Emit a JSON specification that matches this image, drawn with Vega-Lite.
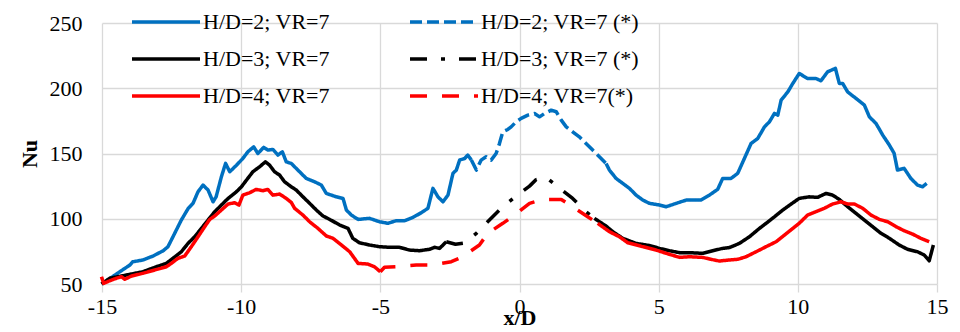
{
  "$schema": "https://vega.github.io/schema/vega-lite/v6.json",
  "width": 835,
  "height": 261,
  "autosize": {"type": "none"},
  "padding": {"left": 102, "top": 23, "right": 23, "bottom": 48},
  "background": "white",
  "config": {
    "font": "Liberation Serif, Times New Roman, serif",
    "view": {"stroke": null},
    "axis": {"labelFont": "Liberation Serif, Times New Roman, serif", "titleFont": "Liberation Serif, Times New Roman, serif", "labelFontSize": 22, "titleFontSize": 22, "labelColor": "#000000", "titleColor": "#000000", "titleFontWeight": "bold", "gridColor": "#d9d9d9", "gridWidth": 1.3, "domain": false},
    "legend": {"labelFont": "Liberation Serif, Times New Roman, serif", "labelFontSize": 22, "labelColor": "#000000", "padding": 0}
  },
  "data": {"values": [
    {"s":"H/D=2; VR=7","g":1,"x":-15.0,"y":50},{"s":"H/D=2; VR=7","g":1,"x":-14.7,"y":54.4},{"s":"H/D=2; VR=7","g":1,"x":-14.36,"y":59.4},{"s":"H/D=2; VR=7","g":1,"x":-14.0,"y":64.5},{"s":"H/D=2; VR=7","g":1,"x":-13.9,"y":67},{"s":"H/D=2; VR=7","g":1,"x":-13.53,"y":68.4},{"s":"H/D=2; VR=7","g":1,"x":-13.17,"y":71.4},{"s":"H/D=2; VR=7","g":1,"x":-12.8,"y":75.5},{"s":"H/D=2; VR=7","g":1,"x":-12.63,"y":78.6},{"s":"H/D=2; VR=7","g":1,"x":-12.45,"y":86.2},{"s":"H/D=2; VR=7","g":1,"x":-12.15,"y":99},{"s":"H/D=2; VR=7","g":1,"x":-11.9,"y":108},{"s":"H/D=2; VR=7","g":1,"x":-11.73,"y":111.8},{"s":"H/D=2; VR=7","g":1,"x":-11.55,"y":120.7},{"s":"H/D=2; VR=7","g":1,"x":-11.37,"y":125.8},{"s":"H/D=2; VR=7","g":1,"x":-11.19,"y":122},{"s":"H/D=2; VR=7","g":1,"x":-11.01,"y":113},{"s":"H/D=2; VR=7","g":1,"x":-10.9,"y":116.8},{"s":"H/D=2; VR=7","g":1,"x":-10.71,"y":132.2},{"s":"H/D=2; VR=7","g":1,"x":-10.56,"y":142.4},{"s":"H/D=2; VR=7","g":1,"x":-10.41,"y":136},{"s":"H/D=2; VR=7","g":1,"x":-10.17,"y":141},{"s":"H/D=2; VR=7","g":1,"x":-9.94,"y":146.2},{"s":"H/D=2; VR=7","g":1,"x":-9.76,"y":151.3},{"s":"H/D=2; VR=7","g":1,"x":-9.55,"y":155.1},{"s":"H/D=2; VR=7","g":1,"x":-9.4,"y":150},{"s":"H/D=2; VR=7","g":1,"x":-9.19,"y":154.7},{"s":"H/D=2; VR=7","g":1,"x":-9.04,"y":152.6},{"s":"H/D=2; VR=7","g":1,"x":-8.86,"y":153.1},{"s":"H/D=2; VR=7","g":1,"x":-8.68,"y":148.8},{"s":"H/D=2; VR=7","g":1,"x":-8.52,"y":151.3},{"s":"H/D=2; VR=7","g":1,"x":-8.38,"y":143.6},{"s":"H/D=2; VR=7","g":1,"x":-8.2,"y":142.4},{"s":"H/D=2; VR=7","g":1,"x":-7.93,"y":136.6},{"s":"H/D=2; VR=7","g":1,"x":-7.66,"y":130.9},{"s":"H/D=2; VR=7","g":1,"x":-7.36,"y":128.3},{"s":"H/D=2; VR=7","g":1,"x":-7.12,"y":125.8},{"s":"H/D=2; VR=7","g":1,"x":-6.94,"y":119.4},{"s":"H/D=2; VR=7","g":1,"x":-6.58,"y":116.8},{"s":"H/D=2; VR=7","g":1,"x":-6.34,"y":115.6},{"s":"H/D=2; VR=7","g":1,"x":-6.22,"y":106.7},{"s":"H/D=2; VR=7","g":1,"x":-6.04,"y":102.8},{"s":"H/D=2; VR=7","g":1,"x":-5.8,"y":99.5},{"s":"H/D=2; VR=7","g":1,"x":-5.39,"y":100.3},{"s":"H/D=2; VR=7","g":1,"x":-5.03,"y":97.7},{"s":"H/D=2; VR=7","g":1,"x":-4.73,"y":96.5},{"s":"H/D=2; VR=7","g":1,"x":-4.43,"y":98.5},{"s":"H/D=2; VR=7","g":1,"x":-4.13,"y":98.5},{"s":"H/D=2; VR=7","g":1,"x":-3.83,"y":101},{"s":"H/D=2; VR=7","g":1,"x":-3.53,"y":104.6},{"s":"H/D=2; VR=7","g":1,"x":-3.29,"y":108},{"s":"H/D=2; VR=7","g":1,"x":-3.11,"y":123.3},{"s":"H/D=2; VR=7","g":1,"x":-2.93,"y":116.8},{"s":"H/D=2; VR=7","g":1,"x":-2.75,"y":113},{"s":"H/D=2; VR=7","g":1,"x":-2.57,"y":118.1},{"s":"H/D=2; VR=7","g":1,"x":-2.39,"y":134.8},{"s":"H/D=2; VR=7","g":1,"x":-2.27,"y":137.3},{"s":"H/D=2; VR=7","g":1,"x":-2.15,"y":145},{"s":"H/D=2; VR=7","g":1,"x":-1.97,"y":146.2},{"s":"H/D=2; VR=7","g":1,"x":-1.86,"y":148.8},{"s":"H/D=2; VR=7","g":1,"x":-1.73,"y":145},
    {"s":"H/D=2; VR=7 (*)","g":1,"x":-1.73,"y":145},{"s":"H/D=2; VR=7 (*)","g":1,"x":-1.55,"y":137.3},{"s":"H/D=2; VR=7 (*)","g":1,"x":-1.38,"y":144.9},{"s":"H/D=2; VR=7 (*)","g":1,"x":-1.2,"y":147.5},{"s":"H/D=2; VR=7 (*)","g":1,"x":-1.02,"y":144.9},{"s":"H/D=2; VR=7 (*)","g":1,"x":-0.84,"y":150},{"s":"H/D=2; VR=7 (*)","g":1,"x":-0.72,"y":157.6},{"s":"H/D=2; VR=7 (*)","g":1,"x":-0.6,"y":166.6},{"s":"H/D=2; VR=7 (*)","g":1,"x":-0.42,"y":168.4},{"s":"H/D=2; VR=7 (*)","g":1,"x":-0.3,"y":170.4},{"s":"H/D=2; VR=7 (*)","g":1,"x":-0.12,"y":174.3},{"s":"H/D=2; VR=7 (*)","g":1,"x":0.06,"y":176.9},{"s":"H/D=2; VR=7 (*)","g":1,"x":0.3,"y":179.4},{"s":"H/D=2; VR=7 (*)","g":1,"x":0.54,"y":180.7},{"s":"H/D=2; VR=7 (*)","g":1,"x":0.72,"y":178.1},{"s":"H/D=2; VR=7 (*)","g":1,"x":0.9,"y":180.7},{"s":"H/D=2; VR=7 (*)","g":1,"x":1.14,"y":183.2},{"s":"H/D=2; VR=7 (*)","g":1,"x":1.32,"y":182},{"s":"H/D=2; VR=7 (*)","g":1,"x":1.5,"y":175.6},{"s":"H/D=2; VR=7 (*)","g":1,"x":1.68,"y":170.4},{"s":"H/D=2; VR=7 (*)","g":1,"x":1.91,"y":166.6},{"s":"H/D=2; VR=7 (*)","g":1,"x":2.15,"y":162.8},{"s":"H/D=2; VR=7 (*)","g":1,"x":2.39,"y":157.7},{"s":"H/D=2; VR=7 (*)","g":1,"x":2.63,"y":152.6},{"s":"H/D=2; VR=7 (*)","g":1,"x":2.87,"y":147.5},{"s":"H/D=2; VR=7 (*)","g":1,"x":3.11,"y":142.4},
    {"s":"H/D=2; VR=7","g":2,"x":3.11,"y":142.4},{"s":"H/D=2; VR=7","g":2,"x":3.23,"y":137.3},{"s":"H/D=2; VR=7","g":2,"x":3.47,"y":130.9},{"s":"H/D=2; VR=7","g":2,"x":3.71,"y":127.1},{"s":"H/D=2; VR=7","g":2,"x":3.95,"y":123.3},{"s":"H/D=2; VR=7","g":2,"x":4.19,"y":118.1},{"s":"H/D=2; VR=7","g":2,"x":4.43,"y":114.3},{"s":"H/D=2; VR=7","g":2,"x":4.67,"y":111.8},{"s":"H/D=2; VR=7","g":2,"x":5.03,"y":110.5},{"s":"H/D=2; VR=7","g":2,"x":5.27,"y":109.2},{"s":"H/D=2; VR=7","g":2,"x":5.63,"y":111.8},{"s":"H/D=2; VR=7","g":2,"x":5.99,"y":114.3},{"s":"H/D=2; VR=7","g":2,"x":6.22,"y":114.3},{"s":"H/D=2; VR=7","g":2,"x":6.52,"y":114.3},{"s":"H/D=2; VR=7","g":2,"x":6.82,"y":118.1},{"s":"H/D=2; VR=7","g":2,"x":7.12,"y":122.5},{"s":"H/D=2; VR=7","g":2,"x":7.3,"y":130.9},{"s":"H/D=2; VR=7","g":2,"x":7.6,"y":130.9},{"s":"H/D=2; VR=7","g":2,"x":7.84,"y":134.8},{"s":"H/D=2; VR=7","g":2,"x":8.08,"y":146.2},{"s":"H/D=2; VR=7","g":2,"x":8.32,"y":157.7},{"s":"H/D=2; VR=7","g":2,"x":8.56,"y":161.5},{"s":"H/D=2; VR=7","g":2,"x":8.8,"y":170.4},{"s":"H/D=2; VR=7","g":2,"x":8.98,"y":174.3},{"s":"H/D=2; VR=7","g":2,"x":9.16,"y":180.7},{"s":"H/D=2; VR=7","g":2,"x":9.28,"y":179.4},{"s":"H/D=2; VR=7","g":2,"x":9.4,"y":190.9},{"s":"H/D=2; VR=7","g":2,"x":9.64,"y":197.2},{"s":"H/D=2; VR=7","g":2,"x":9.82,"y":203.7},{"s":"H/D=2; VR=7","g":2,"x":10.05,"y":211.3},{"s":"H/D=2; VR=7","g":2,"x":10.35,"y":207.5},{"s":"H/D=2; VR=7","g":2,"x":10.65,"y":207.5},{"s":"H/D=2; VR=7","g":2,"x":10.83,"y":205.7},{"s":"H/D=2; VR=7","g":2,"x":11.07,"y":212.6},{"s":"H/D=2; VR=7","g":2,"x":11.35,"y":215.2},{"s":"H/D=2; VR=7","g":2,"x":11.49,"y":203.7},{"s":"H/D=2; VR=7","g":2,"x":11.61,"y":203.7},{"s":"H/D=2; VR=7","g":2,"x":11.79,"y":197.2},{"s":"H/D=2; VR=7","g":2,"x":12.09,"y":192.2},{"s":"H/D=2; VR=7","g":2,"x":12.39,"y":187.1},{"s":"H/D=2; VR=7","g":2,"x":12.57,"y":178.1},{"s":"H/D=2; VR=7","g":2,"x":12.81,"y":173},{"s":"H/D=2; VR=7","g":2,"x":13.05,"y":164.1},{"s":"H/D=2; VR=7","g":2,"x":13.29,"y":156.4},{"s":"H/D=2; VR=7","g":2,"x":13.46,"y":150.1},{"s":"H/D=2; VR=7","g":2,"x":13.58,"y":137.3},{"s":"H/D=2; VR=7","g":2,"x":13.82,"y":138.6},{"s":"H/D=2; VR=7","g":2,"x":14.06,"y":130.9},{"s":"H/D=2; VR=7","g":2,"x":14.3,"y":125.8},{"s":"H/D=2; VR=7","g":2,"x":14.48,"y":124.5},{"s":"H/D=2; VR=7","g":2,"x":14.63,"y":127.1},
    {"s":"H/D=3; VR=7","g":1,"x":-15.02,"y":50},{"s":"H/D=3; VR=7","g":1,"x":-14.72,"y":54.4},{"s":"H/D=3; VR=7","g":1,"x":-14.12,"y":56.9},{"s":"H/D=3; VR=7","g":1,"x":-13.53,"y":59.4},{"s":"H/D=3; VR=7","g":1,"x":-13.05,"y":63.2},{"s":"H/D=3; VR=7","g":1,"x":-12.69,"y":65.8},{"s":"H/D=3; VR=7","g":1,"x":-12.45,"y":69.7},{"s":"H/D=3; VR=7","g":1,"x":-12.15,"y":74.7},{"s":"H/D=3; VR=7","g":1,"x":-11.91,"y":81.1},{"s":"H/D=3; VR=7","g":1,"x":-11.67,"y":86.2},{"s":"H/D=3; VR=7","g":1,"x":-11.43,"y":92.6},{"s":"H/D=3; VR=7","g":1,"x":-11.19,"y":99},{"s":"H/D=3; VR=7","g":1,"x":-10.95,"y":105.4},{"s":"H/D=3; VR=7","g":1,"x":-10.71,"y":110.5},{"s":"H/D=3; VR=7","g":1,"x":-10.47,"y":115.6},{"s":"H/D=3; VR=7","g":1,"x":-10.17,"y":120.7},{"s":"H/D=3; VR=7","g":1,"x":-9.99,"y":124.5},{"s":"H/D=3; VR=7","g":1,"x":-9.81,"y":129.6},{"s":"H/D=3; VR=7","g":1,"x":-9.58,"y":136},{"s":"H/D=3; VR=7","g":1,"x":-9.34,"y":139.8},{"s":"H/D=3; VR=7","g":1,"x":-9.13,"y":143.6},{"s":"H/D=3; VR=7","g":1,"x":-8.98,"y":141.1},{"s":"H/D=3; VR=7","g":1,"x":-8.8,"y":136},{"s":"H/D=3; VR=7","g":1,"x":-8.62,"y":133.5},{"s":"H/D=3; VR=7","g":1,"x":-8.44,"y":128.3},{"s":"H/D=3; VR=7","g":1,"x":-8.2,"y":124.5},{"s":"H/D=3; VR=7","g":1,"x":-8.02,"y":122},{"s":"H/D=3; VR=7","g":1,"x":-7.78,"y":116.8},{"s":"H/D=3; VR=7","g":1,"x":-7.54,"y":111.8},{"s":"H/D=3; VR=7","g":1,"x":-7.3,"y":106.7},{"s":"H/D=3; VR=7","g":1,"x":-7.06,"y":102.1},{"s":"H/D=3; VR=7","g":1,"x":-6.82,"y":99.5},{"s":"H/D=3; VR=7","g":1,"x":-6.46,"y":95.2},{"s":"H/D=3; VR=7","g":1,"x":-6.16,"y":92.6},{"s":"H/D=3; VR=7","g":1,"x":-5.99,"y":85},{"s":"H/D=3; VR=7","g":1,"x":-5.75,"y":81.6},{"s":"H/D=3; VR=7","g":1,"x":-5.39,"y":79.9},{"s":"H/D=3; VR=7","g":1,"x":-5.03,"y":78.6},{"s":"H/D=3; VR=7","g":1,"x":-4.67,"y":78.1},{"s":"H/D=3; VR=7","g":1,"x":-4.31,"y":78.1},{"s":"H/D=3; VR=7","g":1,"x":-3.95,"y":76},{"s":"H/D=3; VR=7","g":1,"x":-3.59,"y":75.5},{"s":"H/D=3; VR=7","g":1,"x":-3.23,"y":76.6},{"s":"H/D=3; VR=7","g":1,"x":-3.05,"y":78.1},{"s":"H/D=3; VR=7","g":1,"x":-2.87,"y":77.3},{"s":"H/D=3; VR=7","g":1,"x":-2.63,"y":82.4},
    {"s":"H/D=3; VR=7 (*)","g":1,"x":-2.63,"y":82.4},{"s":"H/D=3; VR=7 (*)","g":1,"x":-2.3,"y":80.5},{"s":"H/D=3; VR=7 (*)","g":1,"x":-1.97,"y":81.5},{"s":"H/D=3; VR=7 (*)","g":1,"x":-1.55,"y":88.8},{"s":"H/D=3; VR=7 (*)","g":1,"x":-1.08,"y":99},{"s":"H/D=3; VR=7 (*)","g":1,"x":-0.6,"y":109.2},{"s":"H/D=3; VR=7 (*)","g":1,"x":-0.18,"y":116.4},{"s":"H/D=3; VR=7 (*)","g":1,"x":0.36,"y":125},{"s":"H/D=3; VR=7 (*)","g":1,"x":0.6,"y":130},{"s":"H/D=3; VR=7 (*)","g":1,"x":0.96,"y":131.7},{"s":"H/D=3; VR=7 (*)","g":1,"x":1.38,"y":124.5},{"s":"H/D=3; VR=7 (*)","g":1,"x":1.91,"y":115.6},{"s":"H/D=3; VR=7 (*)","g":1,"x":2.39,"y":105.4},{"s":"H/D=3; VR=7 (*)","g":1,"x":2.69,"y":100.3},
    {"s":"H/D=3; VR=7","g":2,"x":2.69,"y":100.3},{"s":"H/D=3; VR=7","g":2,"x":3.11,"y":94.4},{"s":"H/D=3; VR=7","g":2,"x":3.35,"y":90.1},{"s":"H/D=3; VR=7","g":2,"x":3.71,"y":85},{"s":"H/D=3; VR=7","g":2,"x":4.19,"y":81.1},{"s":"H/D=3; VR=7","g":2,"x":4.67,"y":79.5},{"s":"H/D=3; VR=7","g":2,"x":5.03,"y":77.3},{"s":"H/D=3; VR=7","g":2,"x":5.39,"y":75.5},{"s":"H/D=3; VR=7","g":2,"x":5.75,"y":74},{"s":"H/D=3; VR=7","g":2,"x":6.1,"y":74},{"s":"H/D=3; VR=7","g":2,"x":6.58,"y":73.5},{"s":"H/D=3; VR=7","g":2,"x":6.94,"y":75.5},{"s":"H/D=3; VR=7","g":2,"x":7.3,"y":77.3},{"s":"H/D=3; VR=7","g":2,"x":7.54,"y":77.9},{"s":"H/D=3; VR=7","g":2,"x":7.9,"y":81.1},{"s":"H/D=3; VR=7","g":2,"x":8.26,"y":86.2},{"s":"H/D=3; VR=7","g":2,"x":8.62,"y":92.6},{"s":"H/D=3; VR=7","g":2,"x":8.86,"y":96.5},{"s":"H/D=3; VR=7","g":2,"x":9.16,"y":101.5},{"s":"H/D=3; VR=7","g":2,"x":9.46,"y":106.7},{"s":"H/D=3; VR=7","g":2,"x":9.76,"y":111.3},{"s":"H/D=3; VR=7","g":2,"x":10.05,"y":115.6},{"s":"H/D=3; VR=7","g":2,"x":10.41,"y":116.8},{"s":"H/D=3; VR=7","g":2,"x":10.71,"y":116.4},{"s":"H/D=3; VR=7","g":2,"x":11.01,"y":119.4},{"s":"H/D=3; VR=7","g":2,"x":11.25,"y":118.1},{"s":"H/D=3; VR=7","g":2,"x":11.49,"y":114.8},{"s":"H/D=3; VR=7","g":2,"x":11.79,"y":109.2},{"s":"H/D=3; VR=7","g":2,"x":12.09,"y":104.1},{"s":"H/D=3; VR=7","g":2,"x":12.39,"y":99},{"s":"H/D=3; VR=7","g":2,"x":12.69,"y":93.9},{"s":"H/D=3; VR=7","g":2,"x":12.99,"y":88.8},{"s":"H/D=3; VR=7","g":2,"x":13.29,"y":85},{"s":"H/D=3; VR=7","g":2,"x":13.64,"y":79.9},{"s":"H/D=3; VR=7","g":2,"x":13.94,"y":76.6},{"s":"H/D=3; VR=7","g":2,"x":14.3,"y":74.7},{"s":"H/D=3; VR=7","g":2,"x":14.54,"y":72.2},{"s":"H/D=3; VR=7","g":2,"x":14.72,"y":67.8},{"s":"H/D=3; VR=7","g":2,"x":14.87,"y":79.9},
    {"s":"H/D=4; VR=7","g":1,"x":-15.02,"y":55.6},{"s":"H/D=4; VR=7","g":1,"x":-14.94,"y":50.5},{"s":"H/D=4; VR=7","g":1,"x":-14.72,"y":52.5},{"s":"H/D=4; VR=7","g":1,"x":-14.48,"y":54.4},{"s":"H/D=4; VR=7","g":1,"x":-14.3,"y":55.6},{"s":"H/D=4; VR=7","g":1,"x":-14.18,"y":53.6},{"s":"H/D=4; VR=7","g":1,"x":-13.94,"y":56.1},{"s":"H/D=4; VR=7","g":1,"x":-13.53,"y":58.2},{"s":"H/D=4; VR=7","g":1,"x":-13.11,"y":60.7},{"s":"H/D=4; VR=7","g":1,"x":-12.69,"y":63.2},{"s":"H/D=4; VR=7","g":1,"x":-12.51,"y":65.8},{"s":"H/D=4; VR=7","g":1,"x":-12.27,"y":69.7},{"s":"H/D=4; VR=7","g":1,"x":-12.03,"y":71.4},{"s":"H/D=4; VR=7","g":1,"x":-11.79,"y":78.6},{"s":"H/D=4; VR=7","g":1,"x":-11.55,"y":86.2},{"s":"H/D=4; VR=7","g":1,"x":-11.31,"y":93.9},{"s":"H/D=4; VR=7","g":1,"x":-11.13,"y":99.5},{"s":"H/D=4; VR=7","g":1,"x":-10.95,"y":102.1},{"s":"H/D=4; VR=7","g":1,"x":-10.71,"y":106.7},{"s":"H/D=4; VR=7","g":1,"x":-10.47,"y":111.3},{"s":"H/D=4; VR=7","g":1,"x":-10.23,"y":112.3},{"s":"H/D=4; VR=7","g":1,"x":-10.08,"y":110.5},{"s":"H/D=4; VR=7","g":1,"x":-9.94,"y":118.1},{"s":"H/D=4; VR=7","g":1,"x":-9.7,"y":119.9},{"s":"H/D=4; VR=7","g":1,"x":-9.46,"y":122.5},{"s":"H/D=4; VR=7","g":1,"x":-9.22,"y":121.5},{"s":"H/D=4; VR=7","g":1,"x":-9.04,"y":122.5},{"s":"H/D=4; VR=7","g":1,"x":-8.86,"y":118.1},{"s":"H/D=4; VR=7","g":1,"x":-8.62,"y":118.9},{"s":"H/D=4; VR=7","g":1,"x":-8.38,"y":115.6},{"s":"H/D=4; VR=7","g":1,"x":-8.2,"y":112.5},{"s":"H/D=4; VR=7","g":1,"x":-8.08,"y":108},{"s":"H/D=4; VR=7","g":1,"x":-7.78,"y":102.8},{"s":"H/D=4; VR=7","g":1,"x":-7.54,"y":97.7},{"s":"H/D=4; VR=7","g":1,"x":-7.24,"y":92.6},{"s":"H/D=4; VR=7","g":1,"x":-6.94,"y":86.8},{"s":"H/D=4; VR=7","g":1,"x":-6.7,"y":85},{"s":"H/D=4; VR=7","g":1,"x":-6.4,"y":79.9},{"s":"H/D=4; VR=7","g":1,"x":-6.1,"y":74.7},{"s":"H/D=4; VR=7","g":1,"x":-5.8,"y":65.8},{"s":"H/D=4; VR=7","g":1,"x":-5.45,"y":65.3},{"s":"H/D=4; VR=7","g":1,"x":-5.21,"y":63.2},{"s":"H/D=4; VR=7","g":1,"x":-5.0,"y":59.4},
    {"s":"H/D=4; VR=7(*)","g":1,"x":-5.0,"y":59.4},{"s":"H/D=4; VR=7(*)","g":1,"x":-4.85,"y":62.8},{"s":"H/D=4; VR=7(*)","g":1,"x":-4.43,"y":63.2},{"s":"H/D=4; VR=7(*)","g":1,"x":-3.71,"y":64.5},{"s":"H/D=4; VR=7(*)","g":1,"x":-3.17,"y":64.5},{"s":"H/D=4; VR=7(*)","g":1,"x":-2.45,"y":67.1},{"s":"H/D=4; VR=7(*)","g":1,"x":-2.04,"y":70.9},{"s":"H/D=4; VR=7(*)","g":1,"x":-1.44,"y":79.9},{"s":"H/D=4; VR=7(*)","g":1,"x":-1.14,"y":88.8},{"s":"H/D=4; VR=7(*)","g":1,"x":-0.6,"y":96.5},{"s":"H/D=4; VR=7(*)","g":1,"x":-0.18,"y":102.8},{"s":"H/D=4; VR=7(*)","g":1,"x":0.36,"y":111.8},{"s":"H/D=4; VR=7(*)","g":1,"x":0.84,"y":114.8},{"s":"H/D=4; VR=7(*)","g":1,"x":1.5,"y":114.8},{"s":"H/D=4; VR=7(*)","g":1,"x":1.91,"y":109.2},{"s":"H/D=4; VR=7(*)","g":1,"x":2.45,"y":101.5},{"s":"H/D=4; VR=7(*)","g":1,"x":2.81,"y":96.5},
    {"s":"H/D=4; VR=7","g":2,"x":2.81,"y":96.5},{"s":"H/D=4; VR=7","g":2,"x":3.23,"y":90.1},{"s":"H/D=4; VR=7","g":2,"x":3.59,"y":86.2},{"s":"H/D=4; VR=7","g":2,"x":3.89,"y":81.6},{"s":"H/D=4; VR=7","g":2,"x":4.43,"y":78.6},{"s":"H/D=4; VR=7","g":2,"x":4.91,"y":76},{"s":"H/D=4; VR=7","g":2,"x":5.27,"y":73.5},{"s":"H/D=4; VR=7","g":2,"x":5.75,"y":70.4},{"s":"H/D=4; VR=7","g":2,"x":6.1,"y":70.9},{"s":"H/D=4; VR=7","g":2,"x":6.58,"y":70.4},{"s":"H/D=4; VR=7","g":2,"x":6.88,"y":68.9},{"s":"H/D=4; VR=7","g":2,"x":7.18,"y":67.6},{"s":"H/D=4; VR=7","g":2,"x":7.54,"y":68.4},{"s":"H/D=4; VR=7","g":2,"x":7.84,"y":68.9},{"s":"H/D=4; VR=7","g":2,"x":8.14,"y":70.9},{"s":"H/D=4; VR=7","g":2,"x":8.5,"y":74.7},{"s":"H/D=4; VR=7","g":2,"x":8.86,"y":78.6},{"s":"H/D=4; VR=7","g":2,"x":9.22,"y":82.4},{"s":"H/D=4; VR=7","g":2,"x":9.52,"y":87.5},{"s":"H/D=4; VR=7","g":2,"x":9.82,"y":92.6},{"s":"H/D=4; VR=7","g":2,"x":10.05,"y":96.5},{"s":"H/D=4; VR=7","g":2,"x":10.35,"y":102.8},{"s":"H/D=4; VR=7","g":2,"x":10.65,"y":105.4},{"s":"H/D=4; VR=7","g":2,"x":10.95,"y":108},{"s":"H/D=4; VR=7","g":2,"x":11.25,"y":111.3},{"s":"H/D=4; VR=7","g":2,"x":11.55,"y":113},{"s":"H/D=4; VR=7","g":2,"x":11.79,"y":111.3},{"s":"H/D=4; VR=7","g":2,"x":12.03,"y":111.3},{"s":"H/D=4; VR=7","g":2,"x":12.33,"y":108},{"s":"H/D=4; VR=7","g":2,"x":12.63,"y":102.8},{"s":"H/D=4; VR=7","g":2,"x":12.93,"y":99.5},{"s":"H/D=4; VR=7","g":2,"x":13.23,"y":97.7},{"s":"H/D=4; VR=7","g":2,"x":13.53,"y":93.9},{"s":"H/D=4; VR=7","g":2,"x":13.82,"y":90.8},{"s":"H/D=4; VR=7","g":2,"x":14.12,"y":88.3},{"s":"H/D=4; VR=7","g":2,"x":14.42,"y":85},{"s":"H/D=4; VR=7","g":2,"x":14.72,"y":82.4}
  ]},
  "mark": {"type": "line", "strokeWidth": 3.5, "strokeCap": "butt", "strokeJoin": "round"},
  "encoding": {
    "x": {"field": "x", "type": "quantitative", "scale": {"domain": [-15, 15], "nice": false, "zero": false},
      "axis": {"title": "x/D", "values": [-15, -10, -5, 0, 5, 10, 15], "labelExpr": "'' + datum.value", "tickColor": "#d9d9d9", "tickWidth": 1.3, "tickSize": 8, "labelPadding": 4, "titlePadding": -10, "labelFlush": false}},
    "y": {"field": "y", "type": "quantitative", "scale": {"domain": [50, 250], "nice": false, "zero": false},
      "axis": {"title": "Nu", "values": [50, 100, 150, 200, 250], "ticks": false, "labelPadding": 20, "titlePadding": 8}},
    "color": {"field": "s", "type": "nominal",
      "scale": {"domain": ["H/D=2; VR=7", "H/D=3; VR=7", "H/D=4; VR=7", "H/D=2; VR=7 (*)", "H/D=3; VR=7 (*)", "H/D=4; VR=7(*)"],
        "range": ["#0070C0", "#000000", "#FF0000", "#0070C0", "#000000", "#FF0000"]},
      "legend": {"title": null, "orient": "none", "legendX": 76, "legendY": -12, "columns": 2, "columnPadding": 73, "rowPadding": 15,
        "symbolType": "M-4,0H4", "symbolSize": 289, "symbolStrokeWidth": 3.5, "symbolOffset": -23, "labelOffset": 26, "labelLimit": 400}},
    "strokeDash": {"field": "s", "type": "nominal",
      "scale": {"domain": ["H/D=2; VR=7", "H/D=3; VR=7", "H/D=4; VR=7", "H/D=2; VR=7 (*)", "H/D=3; VR=7 (*)", "H/D=4; VR=7(*)"],
        "range": [[1, 0], [1, 0], [1, 0], [12, 5], [17, 14, 4, 14], [17, 15]]},
      "legend": {"title": null, "orient": "none", "legendX": 76, "legendY": -12, "columns": 2, "columnPadding": 73, "rowPadding": 15,
        "symbolType": "M-4,0H4", "symbolSize": 289, "symbolStrokeWidth": 3.5, "symbolOffset": -23, "labelOffset": 26, "labelLimit": 400}},
    "detail": {"field": "g", "type": "nominal"}
  }
}
